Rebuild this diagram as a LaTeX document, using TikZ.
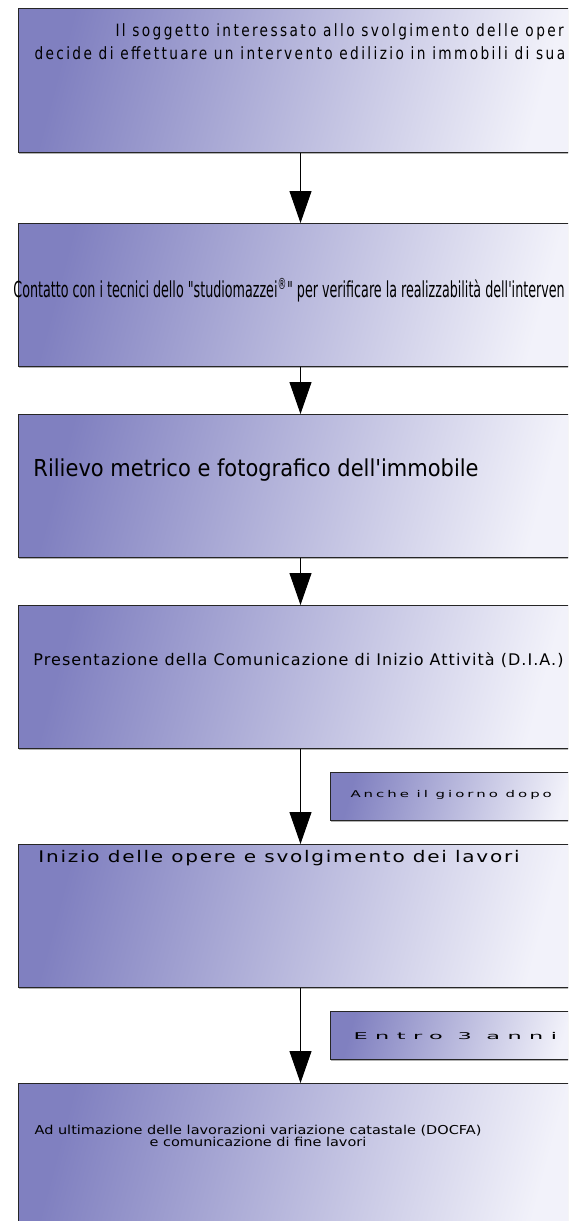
\documentclass[tikz,border=0pt]{standalone}
\usepackage{fontspec}
\setmainfont{DejaVu Sans}
\usetikzlibrary{arrows.meta,shadows}
\newfontfamily\soggettofont[LetterSpace=14,FakeStretch=0.9]{DejaVu Sans Condensed}
\newfontfamily\contattofont[FakeStretch=0.642]{DejaVu Sans Condensed}
\newfontfamily\rilievofont{DejaVu Sans Condensed}
\newfontfamily\diafont[LetterSpace=6.5]{DejaVu Sans}
\newfontfamily\giornofont[FakeStretch=1.6,LetterSpace=32]{DejaVu Sans}
\newfontfamily\anniofont[FakeStretch=2.4,LetterSpace=80]{DejaVu Sans}
\newfontfamily\lavorifont[FakeStretch=1.25,LetterSpace=11]{DejaVu Sans}
\newfontfamily\finefont[FakeStretch=1.18]{DejaVu Sans}

\definecolor{boxblue}{RGB}{128,128,192}
\definecolor{boxpale}{RGB}{242,242,250}

\tikzset{every picture/.style={line width=0.75pt}}
\tikzset{
  stepbox/.style={draw=black!85, left color=boxblue, right color=boxpale,
    shading angle=75, anchor=north west, minimum width=423pt, inner sep=0pt,
    drop shadow={shadow xshift=0pt, shadow yshift=-1.2pt, fill=black!30, opacity=1}},
  notebox/.style={stepbox, minimum width=189pt, minimum height=36pt},
  flow/.style={-{Triangle[width=16.5pt,length=24pt]}}
}

\begin{document}
\begin{tikzpicture}[x=0.75pt,y=0.75pt,yscale=-1]

\clip (0,0) rectangle (568,1221);
\useasboundingbox (0,0) rectangle (568,1221);

% boxes
\node [stepbox, minimum height=108pt] (sogg) at (18,8) {};
\node [stepbox, minimum height=107pt] (cont) at (18,223) {};
\node [stepbox, minimum height=107pt] (rili) at (18,414) {};
\node [stepbox, minimum height=107pt] (pres) at (18,605) {};
\node [stepbox, minimum height=107pt] (iniz) at (18,844) {};
\node [stepbox, minimum height=120pt] (ulti) at (18,1083) {};

\node [notebox] (dopo) at (330,772) {};
\node [notebox] (anni) at (330,1011) {};

% arrows
\draw [flow] (sogg) -- (cont);
\draw [flow] (cont) -- (rili);
\draw [flow] (rili) -- (pres);
\draw [flow] (pres) -- (iniz);
\draw [flow] (iniz) -- (ulti);

% texts
\node [anchor=west, inner sep=0pt, font=\soggettofont\fontsize{12.7}{15}\selectfont] (t1a) at (115,32) {Il soggetto interessato allo svolgimento delle oper};
\node [anchor=west, inner sep=0pt, font=\soggettofont\fontsize{12.7}{15}\selectfont] (t1b) at (34,53) {decide di effettuare un intervento edilizio in immobili di sua};
\node [anchor=west, inner sep=0pt, font=\contattofont\fontsize{16.5}{19}\selectfont] (t2) at (13,290) {Contatto con i tecnici dello "studiomazzei\textsuperscript{®}" per verificare la realizzabilità dell'interven};
\node [anchor=west, inner sep=0pt, font=\rilievofont\fontsize{17.5}{21}\selectfont] (t3) at (33,470) {Rilievo metrico e fotografico dell'immobile};
\node [anchor=west, inner sep=0pt, font=\diafont\fontsize{12}{14}\selectfont] (t4) at (33,660) {Presentazione della Comunicazione di Inizio Attività (D.I.A.)};
\node [anchor=west, inner sep=0pt, font=\giornofont\fontsize{7}{9}\selectfont] (t7) at (350,795) {Anche il giorno dopo};
\node [anchor=west, inner sep=0pt, font=\lavorifont\fontsize{12}{14}\selectfont] (t5) at (38,858) {Inizio delle opere e svolgimento dei lavori};
\node [anchor=west, inner sep=0pt, font=\anniofont\fontsize{7}{9}\selectfont] (t8) at (353,1036) {Entro 3 anni};
\node [align=center, inner sep=0pt, font=\finefont\fontsize{9.2}{8.2}\selectfont] (t6) at (258,1136) {Ad ultimazione delle lavorazioni variazione catastale (DOCFA)\\e comunicazione di fine lavori};

\end{tikzpicture}
\end{document}
